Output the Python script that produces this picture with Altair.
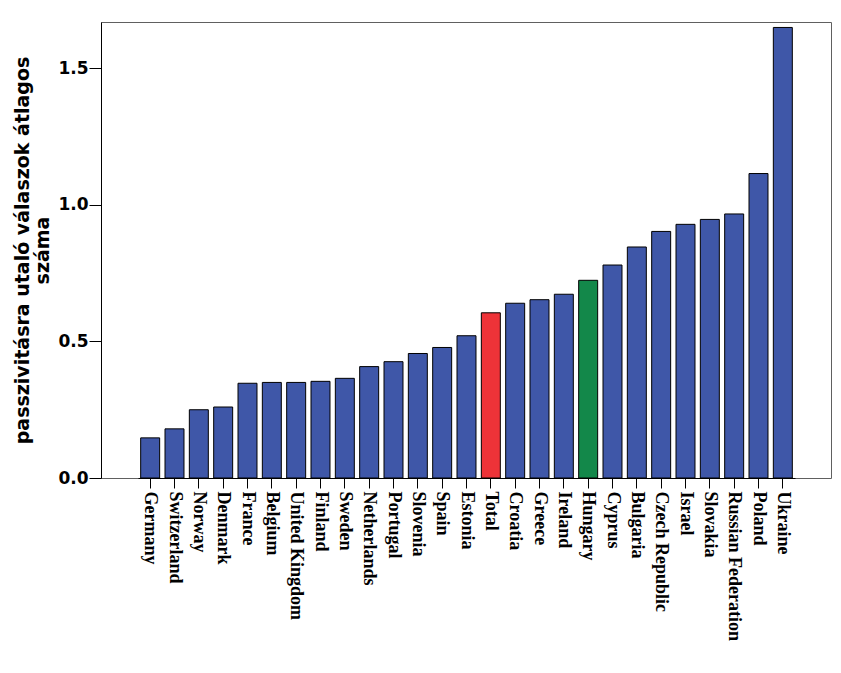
import altair as alt
import pandas as pd

countries = ["Germany", "Switzerland", "Norway", "Denmark", "France", "Belgium",
             "United Kingdom", "Finland", "Sweden", "Netherlands", "Portugal",
             "Slovenia", "Spain", "Estonia", "Total", "Croatia", "Greece", "Ireland",
             "Hungary", "Cyprus", "Bulgaria", "Czech Republic", "Israel", "Slovakia",
             "Russian Federation", "Poland", "Ukraine"]
values = [0.147, 0.180, 0.250, 0.260, 0.347, 0.350, 0.350, 0.354, 0.365, 0.408,
          0.426, 0.456, 0.478, 0.521, 0.605, 0.640, 0.653, 0.673, 0.724, 0.780,
          0.846, 0.903, 0.929, 0.947, 0.967, 1.115, 1.650]
kinds = ["country"] * 14 + ["total"] + ["country"] * 3 + ["hungary"] + ["country"] * 8

kind_domain = ["country", "total", "hungary"]
kind_colors = ["#3F57A8", "#EE3338", "#13884A"]

y_ticks = [0.0, 0.5, 1.0, 1.5]
y_title = ["passzivitásra utaló válaszok átlagos", "száma"]

df = pd.DataFrame({"country": countries, "value": values, "kind": kinds})

chart = alt.Chart(df).mark_bar(stroke="black", strokeWidth=1).encode(
    x=alt.X("country:N", sort=None, title=None,
            scale=alt.Scale(range=[37, 694], paddingInner=0.22, paddingOuter=0.11),
            axis=alt.Axis(labelAngle=90, labelFont="Liberation Serif",
                          labelFontWeight="bold", labelFontSize=18,
                          labelColor="black", tickColor="black", tickSize=10,
                          domainColor="black", labelPadding=3)),
    y=alt.Y("value:Q", scale=alt.Scale(domain=[0, 1.67], nice=False),
            title=y_title,
            axis=alt.Axis(values=y_ticks, format=".1f", grid=False,
                          labelFont="DejaVu Sans", labelFontWeight="bold",
                          labelFontSize=17, labelColor="black",
                          tickColor="black", tickSize=12, domainColor="black",
                          labelPadding=1,
                          titleFont="DejaVu Sans", titleFontWeight="bold",
                          titleFontSize=19, titleColor="black",
                          titlePadding=5, titleLineHeight=20)),
    color=alt.Color("kind:N", scale=alt.Scale(domain=kind_domain, range=kind_colors),
                    legend=None),
).properties(
    width=730, height=456,
    autosize=alt.AutoSizeParams(type="none"),
    padding={"left": 93, "top": 14, "right": 2, "bottom": 180},
).configure_view(stroke="#606060", strokeWidth=1)

chart.save("out.html", embed_options={"renderer": "svg", "actions": False})
